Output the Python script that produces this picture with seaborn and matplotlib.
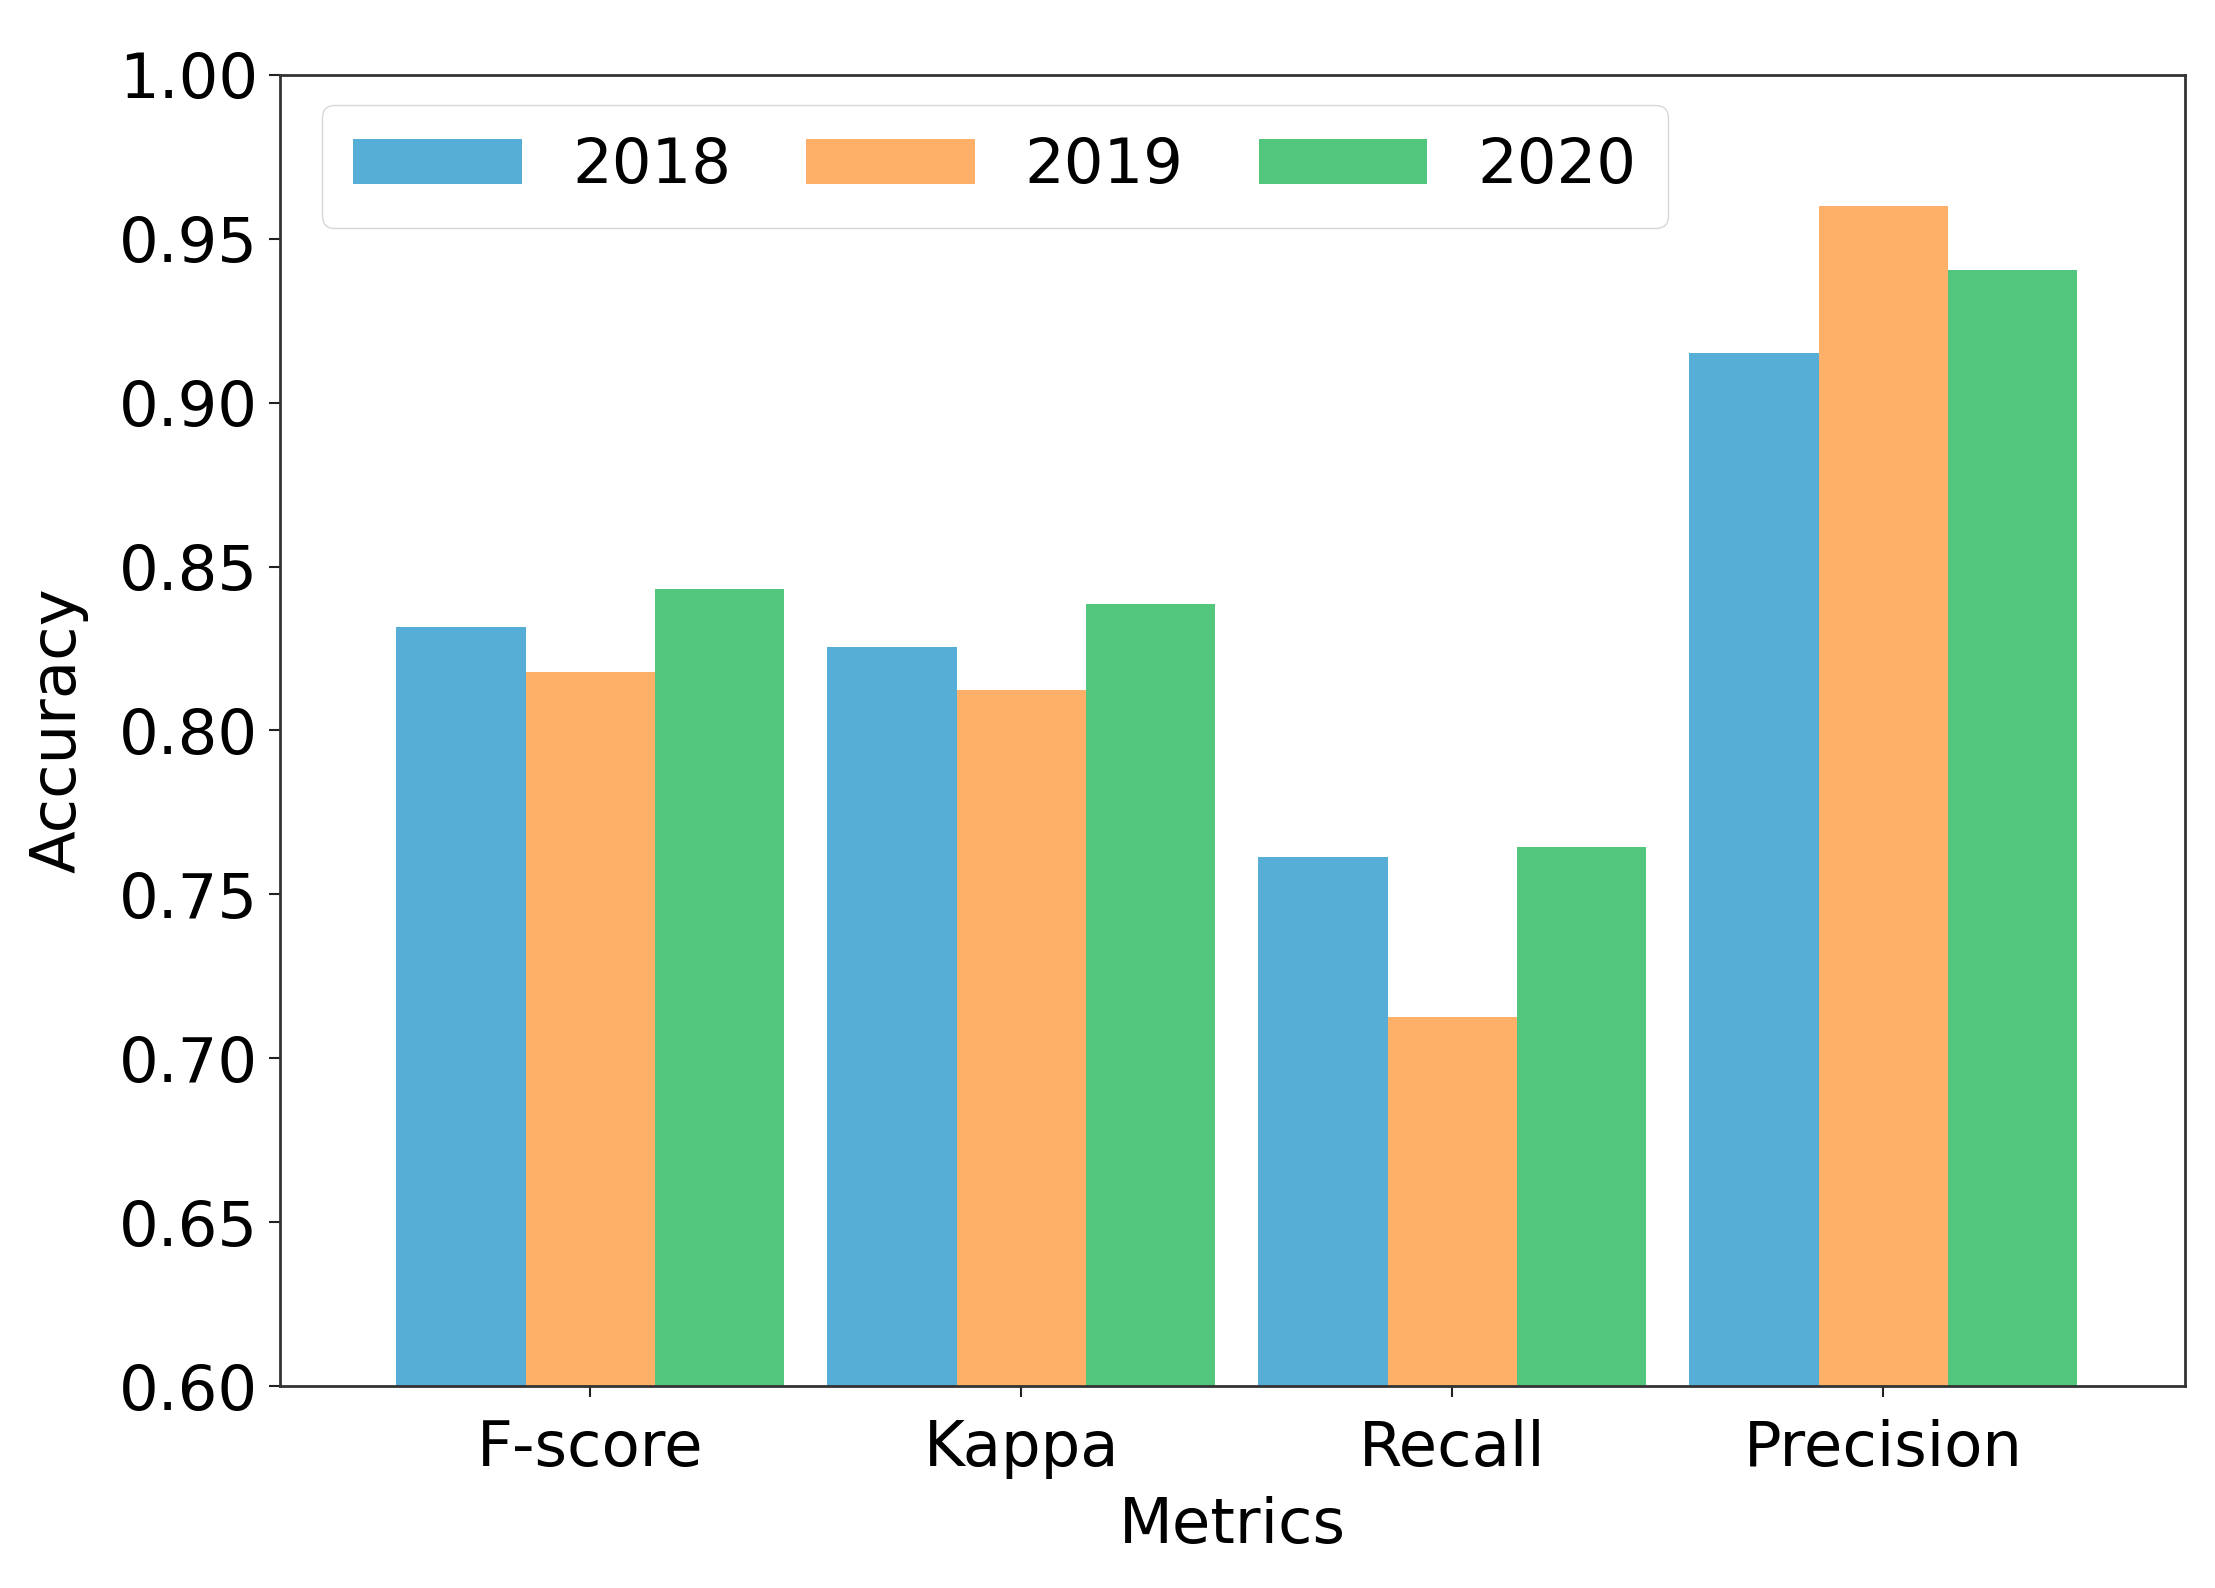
import pandas as pd
import matplotlib
matplotlib.use("Agg")
import matplotlib.pyplot as plt
import seaborn as sns

# Values
metrics = ["F-score", "Kappa", "Recall", "Precision"]
years = ["2018", "2019", "2020"]
acc_2018 = [0.8315, 0.8255, 0.7615, 0.9152]
acc_2019 = [0.8178, 0.8122, 0.7125, 0.9600]
acc_2020 = [0.8432, 0.8385, 0.7643, 0.9405]
colors = ["#56AED6", "#FEB069", "#52C67C"]

rows = []
for year, vals in zip(years, [acc_2018, acc_2019, acc_2020]):
    for m, v in zip(metrics, vals):
        rows.append({"Metrics": m, "Year": year, "Accuracy": v})
df = pd.DataFrame(rows)

sns.set_style("ticks")
plt.rcParams["font.family"] = ["DejaVu Sans"]
plt.rcParams["text.color"] = "black"
plt.rcParams["axes.labelcolor"] = "black"

fig, ax = plt.subplots(figsize=(22.15, 15.88), dpi=100)
fig.subplots_adjust(left=0.1264, right=0.9865, top=0.9528, bottom=0.1272)

sns.barplot(data=df, x="Metrics", y="Accuracy", hue="Year", order=metrics,
            hue_order=years, palette=colors, saturation=1, width=0.9,
            errorbar=None, linewidth=0, ax=ax)

ax.set_ylim(0.6, 1.0)
ax.set_xlim(-0.72, 3.70)
ax.set_yticks([0.60, 0.65, 0.70, 0.75, 0.80, 0.85, 0.90, 0.95, 1.00])
ax.set_yticklabels([f"{t:.2f}" for t in ax.get_yticks()])
ax.tick_params(labelsize=45, length=8, width=1.5, colors="#222222", labelcolor="black")
ax.tick_params(axis="x", pad=16)
ax.tick_params(axis="y", pad=8)
ax.set_xlabel("Metrics", fontsize=45, labelpad=12)
ax.set_ylabel("Accuracy", fontsize=45, labelpad=22)
for s in ax.spines.values():
    s.set_visible(True)
    s.set_linewidth(2.0)
    s.set_color("#333333")

ax.legend(loc="upper left", ncol=3, fontsize=45, frameon=True,
          handlelength=2.7, handleheight=0.75, columnspacing=1.2,
          borderpad=0.5, borderaxespad=0, bbox_to_anchor=(0.022, 0.977))

plt.savefig("out.png", dpi=100)
